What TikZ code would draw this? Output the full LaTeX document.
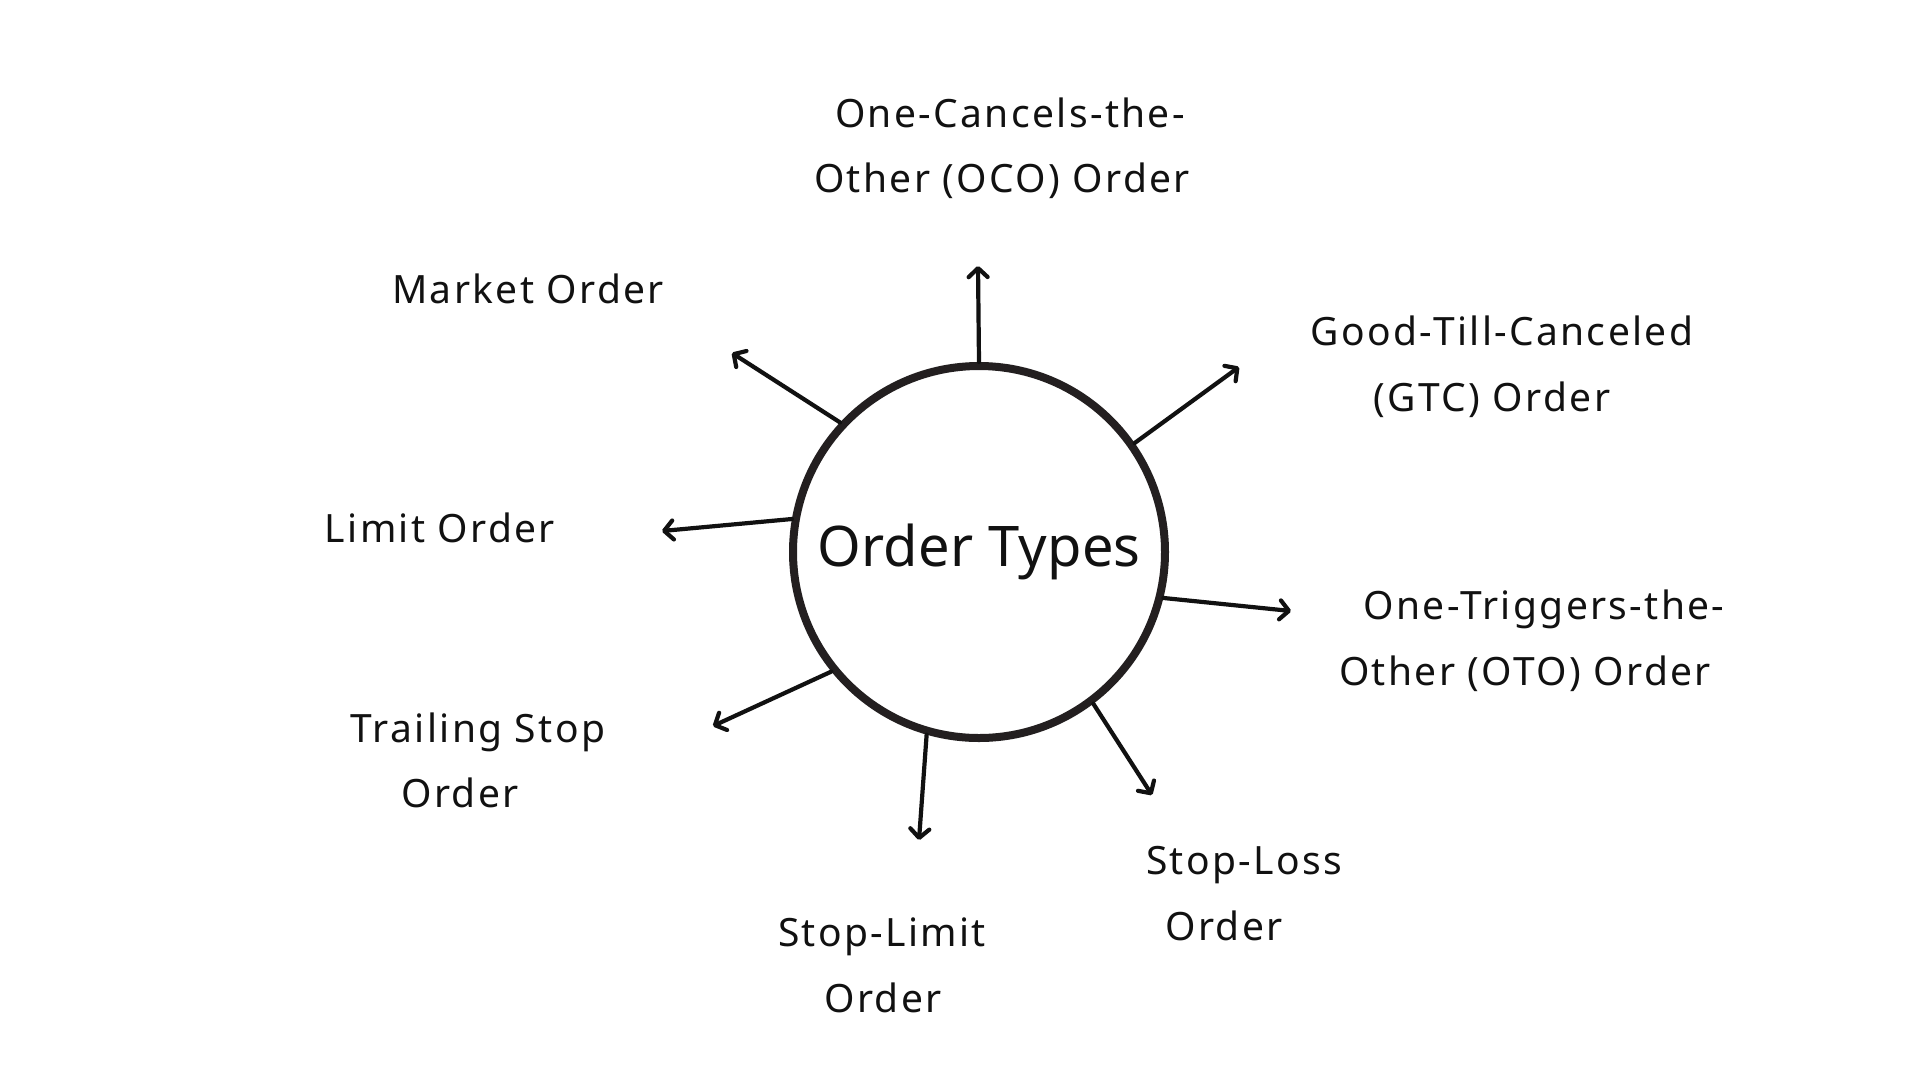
\documentclass[tikz,border=0pt]{standalone}
\usepackage{fontspec}
\setmainfont{Noto Sans}[LetterSpace=6]
\newfontfamily\hubfont{Noto Sans}[LetterSpace=0.5]
\usetikzlibrary{arrows.meta}
\definecolor{ink}{HTML}{111111}
\definecolor{ring}{HTML}{231F20}
\begin{document}
\begin{tikzpicture}[x=1pt,y=-1pt,
  lbl/.style={anchor=base,inner sep=0pt,text=ink,font=\fontsize{39}{47}\selectfont},
  ray/.style={draw=ink,line width=4.2pt,line cap=round,
    -{Straight Barb[length=9pt,width=19pt,line cap=round,line join=round]}},
  hubstyle/.style={circle,draw=ring,line width=8pt,minimum size=372pt,inner sep=0pt,
    text=ink,font=\hubfont\fontsize{56}{60}\selectfont}
]
\useasboundingbox (0,0) rectangle (1920,1080);
\fill[white] (0,0) rectangle (1920,1080);

\node[hubstyle] (hub) at (979,552) {Order Types};

% arrow end points
\coordinate (toco) at (978,266);
\coordinate (tmkt) at (732,353);
\coordinate (tgtc) at (1239,367);
\coordinate (tlim) at (662,531);
\coordinate (toto) at (1291,611);
\coordinate (ttrl) at (713,726);
\coordinate (tslim) at (919,840);
\coordinate (tsl) at (1152,795);

\draw[ray] (hub.90) -- (toco);
\draw[ray] (hub.137.7) -- (tmkt);
\draw[ray] (hub.35.5) -- (tgtc);
\draw[ray] (hub.170.6) -- (tlim);
\draw[ray] (hub.-14.9) -- (toto);
\draw[ray] (hub.219.4) -- (ttrl);
\draw[ray] (hub.-106.7) -- (tslim);
\draw[ray] (hub.-53.6) -- (tsl);

% labels
\node[lbl] (oco1) at (1010,127) {One-Cancels-the-};
\node[lbl] (oco2) at (1002,192) {Other (OCO) Order};
\node[lbl] (mkt) at (528,303) {Market Order};
\node[lbl] (gtc1) at (1502,345) {Good-Till-Canceled};
\node[lbl] (gtc2) at (1492,411) {(GTC) Order};
\node[lbl] (lim) at (440,542) {Limit Order};
\node[lbl] (oto1) at (1544,619) {One-Triggers-the-};
\node[lbl] (oto2) at (1525,685) {Other (OTO) Order};
\node[lbl] (trl1) at (478,742) {Trailing Stop};
\node[lbl] (trl2) at (460,807) {Order};
\node[lbl] (sl1) at (1244,874) {Stop-Loss};
\node[lbl] (sl2) at (1224,940) {Order};
\node[lbl] (slim1) at (882,946) {Stop-Limit};
\node[lbl] (slim2) at (883,1012) {Order};
\end{tikzpicture}
\end{document}
